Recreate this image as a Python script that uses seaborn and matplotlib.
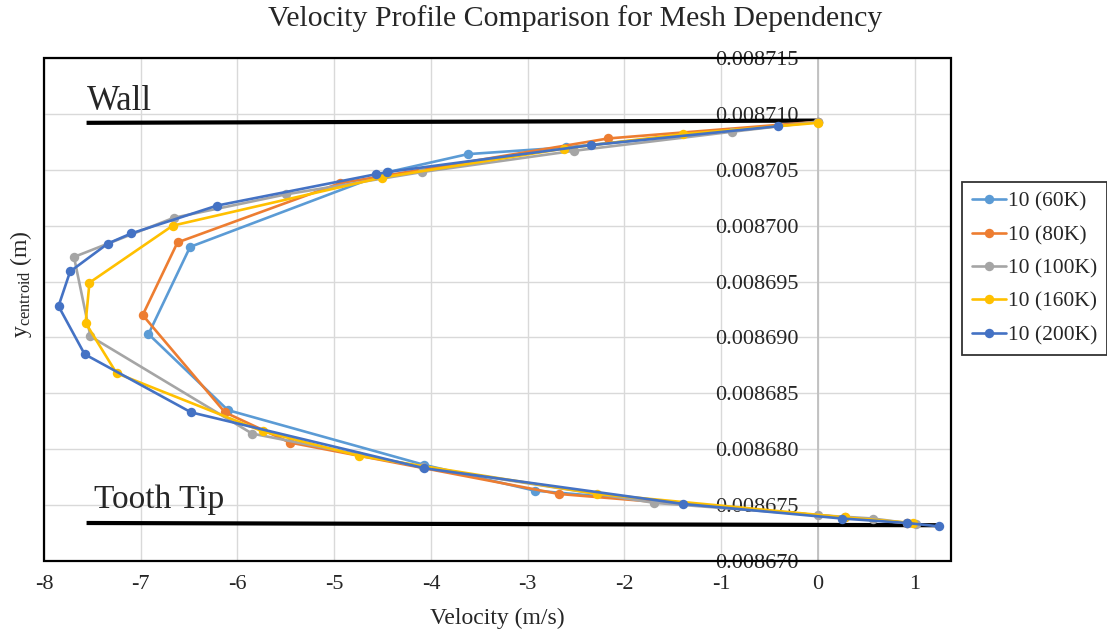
import numpy as np
import pandas as pd
import matplotlib
matplotlib.use("Agg")
import matplotlib.pyplot as plt
import seaborn as sns
from matplotlib.patches import Rectangle
from matplotlib.lines import Line2D
from matplotlib.ticker import MultipleLocator, FormatStrFormatter

# ---------------- data ----------------
series_names = ["10 (60K)", "10 (80K)", "10 (100K)", "10 (160K)", "10 (200K)"]
series_colors = ["#5B9BD5", "#ED7D31", "#A5A5A5", "#FFC000", "#4472C4"]

v_60k = [0.00, -2.60, -3.62, -4.44, -6.49, -6.92, -6.10, -4.07, -2.93, 0.92]
y_60k = [0.0087093, 0.0087070, 0.0087064, 0.0087048, 0.0086981, 0.0086903,
         0.0086835, 0.0086786, 0.0086763, 0.0086734]

v_80k = [0.00, -2.17, -4.94, -6.62, -6.98, -6.13, -5.46, -2.68, 0.28, 0.92]
y_80k = [0.0087093, 0.0087078, 0.0087038, 0.0086985, 0.0086920, 0.0086833,
         0.0086806, 0.0086760, 0.0086739, 0.0086734]

v_100k = [0.00, -0.89, -2.52, -4.09, -5.50, -6.66, -7.69, -7.52, -5.85, -4.08,
          -1.69, 0.00, 0.57, 1.01]
y_100k = [0.0087093, 0.0087084, 0.0087067, 0.0087048, 0.0087028, 0.0087007,
          0.0086972, 0.0086901, 0.0086814, 0.0086784, 0.0086752, 0.0086741,
          0.0086738, 0.0086733]

v_160k = [0.00, -1.39, -2.62, -4.51, -6.67, -7.53, -7.57, -7.25, -5.74, -4.74,
          -2.28, 0.28, 0.98]
y_160k = [0.0087092, 0.0087082, 0.0087069, 0.0087043, 0.0087000, 0.0086949,
          0.0086913, 0.0086868, 0.0086816, 0.0086794, 0.0086760, 0.0086739,
          0.0086734]

v_200k = [-0.41, -2.35, -4.45, -4.57, -6.21, -7.10, -7.34, -7.73, -7.85, -7.58,
          -6.48, -4.07, -1.39, 0.25, 0.92, 1.25]
y_200k = [0.0087089, 0.0087072, 0.0087048, 0.0087046, 0.0087018, 0.0086993,
          0.0086984, 0.0086959, 0.0086928, 0.0086885, 0.0086833, 0.0086783,
          0.0086751, 0.0086738, 0.0086734, 0.0086731]

# reference lines (annotation shapes)
wall_x = [-7.56, 0.0]
wall_y = [0.0087092, 0.0087094]
tip_x = [-7.56, 1.25]
tip_y = [0.0086734, 0.0086732]

x_ticks = [-8, -7, -6, -5, -4, -3, -2, -1, 0, 1]

title = "Velocity Profile Comparison for Mesh Dependency"
xlabel = "Velocity (m/s)"
ylabel = r"y$_{\mathrm{centroid}}$ (m)"

# ---------------- build table ----------------
frames = []
for name, vs, ys in zip(series_names,
                        [v_60k, v_80k, v_100k, v_160k, v_200k],
                        [y_60k, y_80k, y_100k, y_160k, y_200k]):
    frames.append(pd.DataFrame({"series": name, "v": vs, "y": ys,
                                "order": np.arange(len(vs))}))
df = pd.concat(frames, ignore_index=True)

# ---------------- style ----------------
sns.set_style("white")
plt.rcParams["font.family"] = ["Liberation Serif", "DejaVu Serif"]
plt.rcParams["mathtext.fontset"] = "custom"
plt.rcParams["mathtext.rm"] = "Liberation Serif"
plt.rcParams["mathtext.it"] = "Liberation Serif:italic"
plt.rcParams["axes.unicode_minus"] = False

fig = plt.figure(figsize=(11.07, 6.37), dpi=100)
ax = fig.add_axes([44 / 1107, 1 - 561 / 637, (951 - 44) / 1107, (561 - 58) / 637])

# reference lines
ax.plot(wall_x, wall_y, color="black", lw=3.0, zorder=2, solid_capstyle="butt")
ax.plot(tip_x, tip_y, color="black", lw=3.0, zorder=2, solid_capstyle="butt")

sns.lineplot(data=df, x="v", y="y", hue="series", hue_order=series_names,
             palette=series_colors, sort=False, estimator=None, units="series",
             marker="o", markersize=6.8, markeredgewidth=0, linewidth=1.9,
             ax=ax, legend=False, zorder=3)

ax.set_xlim(-8, 1.375)
ax.set_ylim(0.008670, 0.008715)
ax.set_xticks(x_ticks)
ax.yaxis.set_major_locator(MultipleLocator(0.000005))
ax.yaxis.set_major_formatter(FormatStrFormatter("%.6f"))

ax.grid(True, color="#D9D9D9", lw=1.0, zorder=0)
ax.set_axisbelow(True)

# spines: left spine moved to x = 0 (grey value axis), box drawn separately
for s in ["top", "right", "bottom"]:
    ax.spines[s].set_visible(False)
ax.spines["left"].set_position(("data", 0))
ax.spines["left"].set_color("#BFBFBF")
ax.spines["left"].set_linewidth(1.3)
ax.spines["left"].set_zorder(1)
ax.add_patch(Rectangle((0, 0), 1, 1, transform=ax.transAxes, fill=False,
                       ec="black", lw=1.6, zorder=5, clip_on=False))

ax.tick_params(axis="y", length=0, pad=14, labelsize=16)
ax.tick_params(axis="x", length=0, pad=10, labelsize=16)
for lbl in ax.get_yticklabels():
    lbl.set_zorder(4)

ax.set_xlabel(xlabel, fontsize=17, labelpad=10)
ax.set_ylabel(ylabel, fontsize=17)
ax.yaxis.set_label_coords(-0.011, 0.55)

fig.text(575 / 1107, 1 - 19 / 637, title, ha="center", va="center", fontsize=21.5)

ax.text(-7.56, 0.0087111, "Wall", fontsize=25, ha="left", va="center", zorder=6)
ax.text(-7.48, 0.0086755, "Tooth Tip", fontsize=24, ha="left", va="center", zorder=6)

# legend
handles = [Line2D([0], [0], color=c, lw=1.9, marker="o", markersize=6.8,
                  markeredgewidth=0) for c in series_colors]
leg = fig.legend(handles, series_names, loc="center left",
                 bbox_to_anchor=(962 / 1107, 1 - 268.5 / 637), fontsize=15.5,
                 frameon=True, fancybox=False, edgecolor="black",
                 handlelength=1.6, handletextpad=0.1, labelspacing=0.62,
                 borderpad=0.45, borderaxespad=0)
leg.get_frame().set_linewidth(1.3)

fig.savefig("out.png", dpi=100)
